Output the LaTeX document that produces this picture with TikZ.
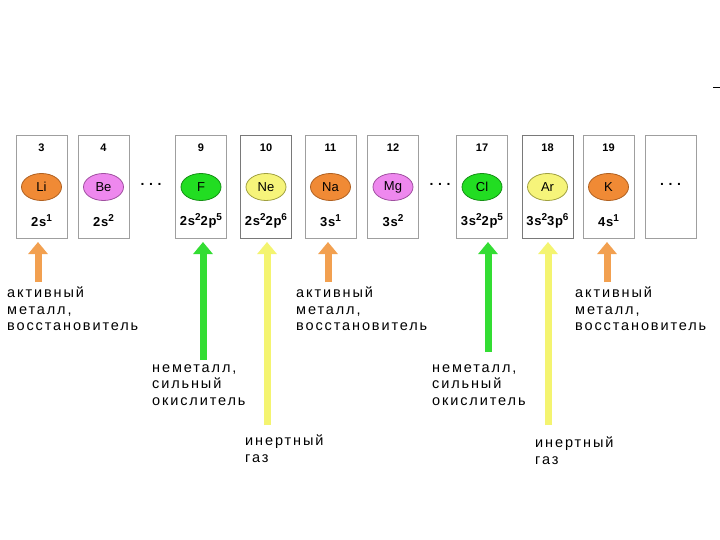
\documentclass[tikz,border=0pt]{standalone}
\usepackage{fontspec}
\setmainfont{Liberation Sans}
\usetikzlibrary{arrows.meta,shapes.geometric}
\definecolor{orE}{HTML}{F08A35}
\definecolor{orB}{HTML}{B06020}
\definecolor{piE}{HTML}{EE88EE}
\definecolor{piB}{HTML}{A050A0}
\definecolor{grE}{HTML}{22DD22}
\definecolor{grB}{HTML}{159015}
\definecolor{yeE}{HTML}{F6F47A}
\definecolor{yeB}{HTML}{A0A040}
\definecolor{orA}{HTML}{F2A050}
\definecolor{grA}{HTML}{33DD33}
\definecolor{yeA}{HTML}{F4F470}
\newcommand{\sps}[1]{\raisebox{5pt}{\fontsize{10}{10}\selectfont #1}}
\tikzset{
  cell/.style={draw=gray!75, line width=0.9pt, minimum width=51pt, minimum height=103pt, inner sep=0pt},
  cellD/.style={cell, draw=gray!95!black},
  num/.style={font=\fontsize{11}{12}\selectfont\bfseries},
  cfg/.style={inner sep=0pt, font=\fontsize{13}{13}\selectfont\bfseries\addfontfeature{LetterSpace=5}},
  elem/.style={ellipse, draw, line width=0.8pt, minimum width=40pt, minimum height=27pt, inner sep=0pt, font=\fontsize{13}{13}\selectfont},
  dots/.style={font=\fontsize{14}{14}\selectfont\bfseries},
  lbl/.style={anchor=north west, align=left, inner sep=0pt, font=\fontsize{14.5}{16.5}\selectfont\addfontfeature{LetterSpace=13}},
  arrO/.style={orA, line width=7pt, -{Triangle[width=19pt,length=12pt]}},
  arrG/.style={grA, line width=7pt, -{Triangle[width=19pt,length=12pt]}},
  arrY/.style={yeA, line width=7pt, -{Triangle[width=19pt,length=12pt]}},
}
\begin{document}
\begin{tikzpicture}[x=1pt,y=-1pt]
\useasboundingbox[fill=white] (0,0) rectangle (720,540);
\draw[black, line width=1pt] (713,88) -- (720,88);
% cells
\foreach \nm/\x/\n/\e/\ef/\eb/\c/\st in {
  li/41.5/3/Li/orE/orB/{2s\sps{1}}/cell,
  be/103.5/4/Be/piE/piB/{2s\sps{2}}/cell,
  f/201/9/F/grE/grB/{2s\sps{2}2p\sps{5}}/cell,
  ne/266/10/Ne/yeE/yeB/{2s\sps{2}2p\sps{6}}/cellD,
  na/330.5/11/Na/orE/orB/{3s\sps{1}}/cell,
  mg/393/12/Mg/piE/piB/{3s\sps{2}}/cell,
  cl/482/17/Cl/grE/grB/{3s\sps{2}2p\sps{5}}/cell,
  ar/547.5/18/Ar/yeE/yeB/{3s\sps{2}3p\sps{6}}/cellD,
  k/608.5/19/K/orE/orB/{4s\sps{1}}/cell}{
  \node[\st] (\nm) at (\x,187) {};
  \node[num] (\nm-n) at (\x,148) {\n};
  \node[elem, fill=\ef, draw=\eb] (\nm-e) at (\x,187) {\e};
  \node[cfg] (\nm-c) at (\x,221) {\c};
}
\node[cell] (last) at (670.5,187) {};
\node[dots] (d1) at (151,184) {.\,\,.\,\,.};
\node[dots] (d2) at (440,184) {.\,\,.\,\,.};
\node[dots] (d3) at (670.5,184) {.\,\,.\,\,.};
% arrows
\coordinate (li-a) at (38,282);
\coordinate (f-a) at (203,360);
\coordinate (ne-a) at (267,425);
\coordinate (na-a) at (328,282);
\coordinate (cl-a) at (488,352);
\coordinate (ar-a) at (548,425);
\coordinate (k-a) at (607,282);
\draw[arrO] (li-a) -- (li-a |- 0,242);
\draw[arrG] (f-a) -- (f-a |- 0,242);
\draw[arrY] (ne-a) -- (ne-a |- 0,242);
\draw[arrO] (na-a) -- (na-a |- 0,242);
\draw[arrG] (cl-a) -- (cl-a |- 0,242);
\draw[arrY] (ar-a) -- (ar-a |- 0,242);
\draw[arrO] (k-a) -- (k-a |- 0,242);
% labels
\node[lbl] (l1) at (7,287) {активный\\металл,\\восстановитель};
\node[lbl] (l2) at (296,287) {активный\\металл,\\восстановитель};
\node[lbl] (l3) at (575,287) {активный\\металл,\\восстановитель};
\node[lbl] (l4) at (152,364) {неметалл,\\сильный\\окислитель};
\node[lbl] (l5) at (432,364) {неметалл,\\сильный\\окислитель};
\node[lbl] (l6) at (245,435) {инертный\\газ};
\node[lbl] (l7) at (535,437) {инертный\\газ};
\end{tikzpicture}
\end{document}
